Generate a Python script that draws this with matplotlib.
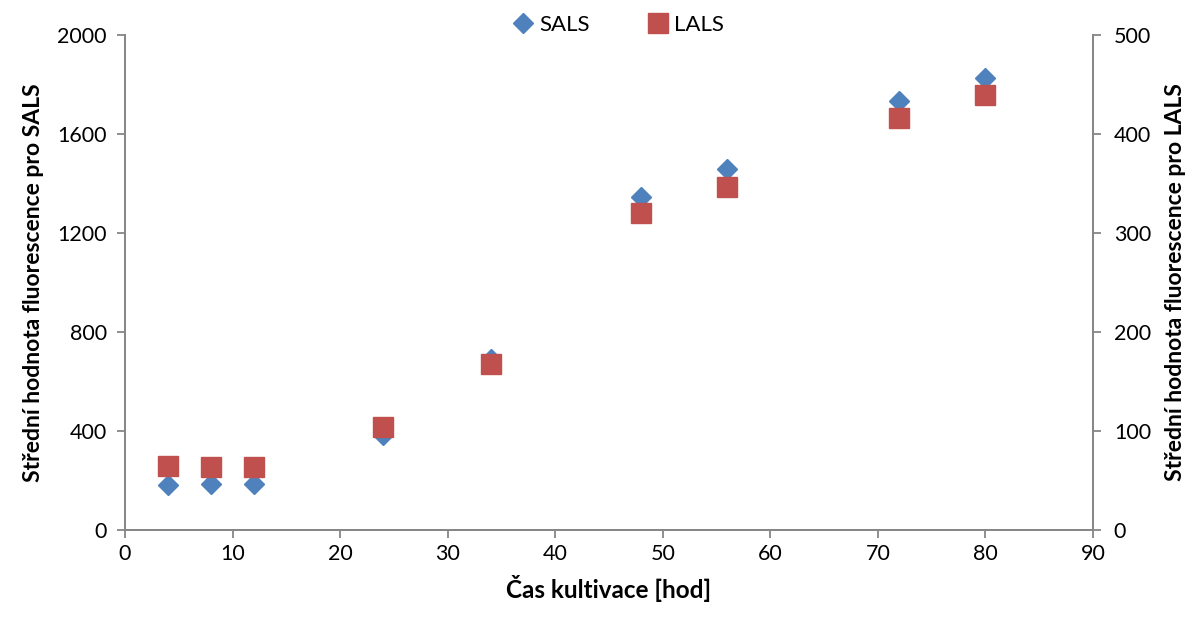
import matplotlib
matplotlib.use("Agg")
import matplotlib.pyplot as plt
from matplotlib.lines import Line2D

plt.rcParams['font.family'] = ['Lato', 'DejaVu Sans']

time_h = [4, 8, 12, 24, 34, 48, 56, 72, 80]
sals = [182, 184, 184, 382, 692, 1345, 1460, 1735, 1825]
lals = [65, 64, 64, 104, 168, 320, 346, 416, 439]

x_ticks = [0, 10, 20, 30, 40, 50, 60, 70, 80, 90]
left_ticks = [0, 400, 800, 1200, 1600, 2000]
right_ticks = [0, 100, 200, 300, 400, 500]

blue = '#4F81BD'
red = '#C0504D'
axis_gray = '#868686'

fig = plt.figure(figsize=(12, 6.17), dpi=100)
ax = fig.add_axes([125/1200, 1 - 530/617, (1093-125)/1200, (530-35)/617])
ax2 = ax.twinx()

ax.plot(time_h, sals, linestyle='none', marker='D', markersize=10.5,
        color=blue, markeredgecolor=blue, zorder=3)
ax2.plot(time_h, lals, linestyle='none', marker='s', markersize=14,
         color=red, markeredgecolor=red, zorder=3)

ax.set_xlim(0, 90)
ax.set_ylim(0, 2000)
ax2.set_ylim(0, 500)
ax.set_xticks(x_ticks)
ax.set_yticks(left_ticks)
ax2.set_yticks(right_ticks)

for a in (ax, ax2):
    for s in a.spines.values():
        s.set_color(axis_gray)
        s.set_linewidth(1.3)
    a.spines['top'].set_visible(False)
    a.tick_params(colors=axis_gray, labelcolor='black', labelsize=15.5,
                  length=6, width=1.3, direction='out')

ax.tick_params(axis='y', pad=7)
ax2.tick_params(axis='y', pad=9)
ax.tick_params(axis='x', pad=4)

ax.set_xlabel('Čas kultivace [hod]', fontsize=17.5, fontweight='bold', labelpad=8)
ax.set_ylabel('Střední hodnota fluorescence pro SALS', fontsize=16.5,
              fontweight='bold', labelpad=10)
ax2.set_ylabel('Střední hodnota fluorescence pro LALS', fontsize=16.5,
               fontweight='bold', labelpad=10)

handles = [
    Line2D([], [], linestyle='none', marker='D', markersize=10, color=blue),
    Line2D([], [], linestyle='none', marker='s', markersize=14, color=red),
]
fig.legend(handles, ['SALS', 'LALS'], loc='center', bbox_to_anchor=(0.514, 1 - 25/617),
           ncol=2, frameon=False, fontsize=16, handletextpad=0.1,
           columnspacing=2.5, handlelength=1.2)

fig.savefig('out.png', dpi=100)
